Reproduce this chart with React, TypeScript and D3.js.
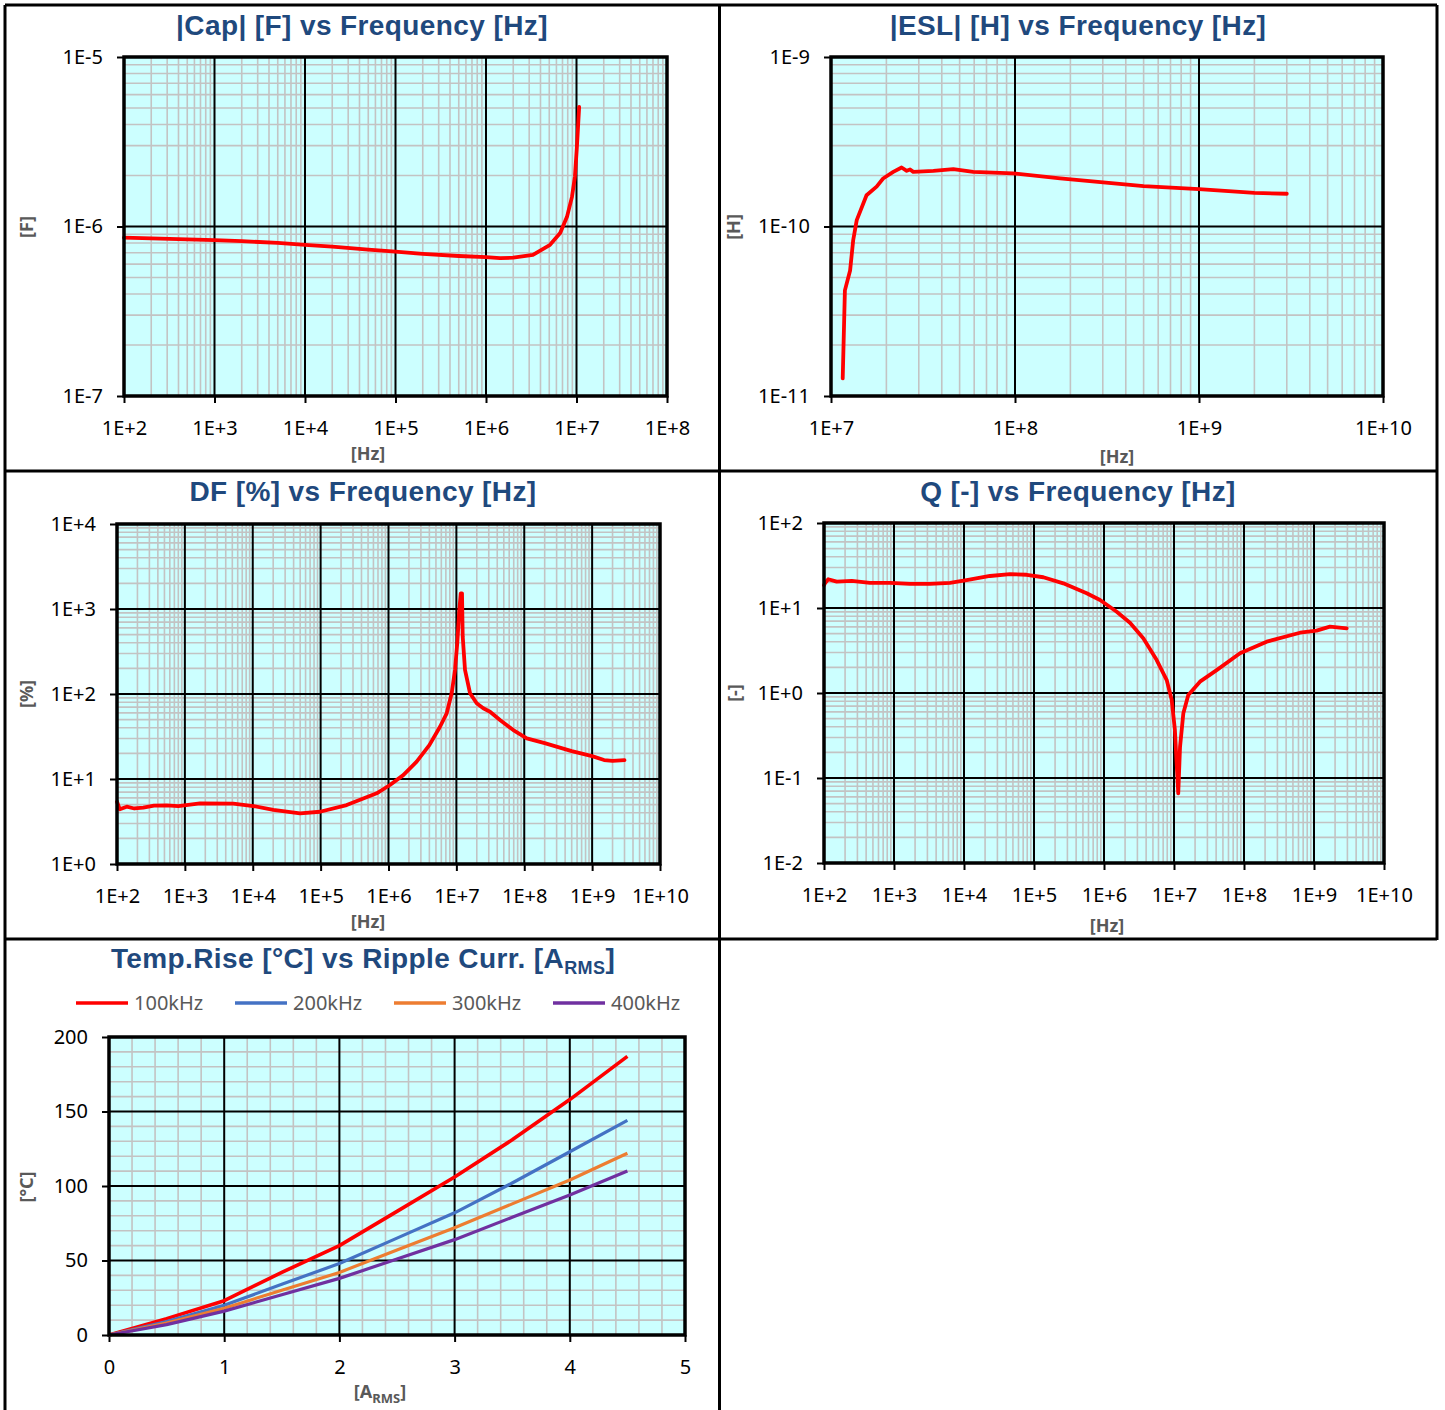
import { useEffect, useRef } from "react";
import * as d3 from "d3";

const WIDTH = 1445;
const HEIGHT = 1410;
const TITLE_COLOR = "#1f497d";
const LABEL_COLOR = "#595959";
const PLOT_BG = "#ccffff";
const MINOR_GRID = "#c3c3c3";
const CURVE_RED = "#ff0000";
const TICK_FONT = "'Noto Sans', 'DejaVu Sans', sans-serif";
const TITLE_FONT = "'Liberation Sans', Arial, sans-serif";

// |Cap| [F] vs Frequency [Hz]
const capFreq = [1e2, 2e2, 5e2, 1e3, 2e3, 5e3, 1e4, 2e4, 5e4, 1e5, 2e5, 5e5, 1e6, 1.43e6, 2e6, 3.3e6, 5.1e6, 6.6e6, 7.85e6, 8.9e6, 9.6e6, 1.01e7, 1.07e7];
const capValue = [0.86e-6, 0.85e-6, 0.84e-6, 0.83e-6, 0.82e-6, 0.8e-6, 0.78e-6, 0.76e-6, 0.73e-6, 0.71e-6, 0.69e-6, 0.67e-6, 0.66e-6, 0.65e-6, 0.655e-6, 0.68e-6, 0.78e-6, 0.915e-6, 1.14e-6, 1.49e-6, 1.96e-6, 2.94e-6, 5.07e-6];

// |ESL| [H] vs Frequency [Hz]
const eslFreq = [1.158e7, 1.19e7, 1.27e7, 1.32e7, 1.38e7, 1.56e7, 1.77e7, 1.92e7, 2.18e7, 2.42e7, 2.58e7, 2.69e7, 2.8e7, 3.6e7, 4.62e7, 5.93e7, 9.75e7, 1.76e8, 5e8, 1e9, 2e9, 3e9];
const eslValue = [1.27e-11, 4.2e-11, 5.5e-11, 8.3e-11, 1.09e-10, 1.53e-10, 1.72e-10, 1.92e-10, 2.1e-10, 2.23e-10, 2.13e-10, 2.17e-10, 2.1e-10, 2.13e-10, 2.18e-10, 2.1e-10, 2.06e-10, 1.92e-10, 1.73e-10, 1.66e-10, 1.58e-10, 1.56e-10];

// DF [%] vs Frequency [Hz]
const dfFreq = [1e2, 1.1e2, 1.39e2, 1.8e2, 2.44e2, 3.5e2, 5.4e2, 8e2, 1.67e3, 5.17e3, 1.02e4, 2.01e4, 4.97e4, 9.8e4, 2.42e5, 6.7e5, 1.05e6, 1.65e6, 2.6e6, 4e6, 5.74e6, 7.2e6, 8.53e6, 9.55e6, 1.03e7, 1.105e7, 1.16e7, 1.21e7, 1.24e7, 1.34e7, 1.59e7, 1.99e7, 2.49e7, 3.13e7, 4.39e7, 6.9e7, 1.09e8, 2e8, 5e8, 1e9, 1.5e9, 2e9, 3e9];
const dfValue = [5.4, 4.4, 4.72, 4.5, 4.6, 4.85, 4.9, 4.8, 5.18, 5.12, 4.81, 4.32, 3.95, 4.12, 4.94, 6.79, 8.5, 11.1, 16, 25, 41.2, 59.3, 102, 192, 394, 972, 1530, 1530, 472, 192, 102, 77.8, 67.9, 61.9, 49.4, 37.7, 30.1, 26.4, 21.3, 18.6, 16.7, 16.3, 16.7];

// Q [-] vs Frequency [Hz]
const qFreq = [1e2, 1.03e2, 1.15e2, 1.52e2, 2.49e2, 4.54e2, 8.77e2, 1.69e3, 3.27e3, 6.31e3, 1.09e4, 2.35e4, 4.54e4, 7.87e4, 1.36e5, 2.62e5, 5.66e5, 8.77e5, 1.52e6, 2.35e6, 3.64e6, 5.66e6, 7.87e6, 9.27e6, 1.03e7, 1.15e7, 1.22e7, 1.36e7, 1.6e7, 2.35e7, 4.07e7, 8.77e7, 2.11e8, 6.31e8, 1.09e9, 1.69e9, 2.93e9];
const qValue = [18.5, 19.5, 21.8, 20.4, 20.9, 19.8, 19.8, 19.2, 19.2, 19.8, 21.3, 23.8, 25.1, 24.6, 23, 19.5, 14.9, 12.4, 9.04, 6.71, 4.4, 2.44, 1.42, 0.83, 0.367, 0.066, 0.233, 0.577, 0.947, 1.36, 1.86, 2.93, 4.02, 5.12, 5.41, 6.03, 5.77];

// Temp.Rise [°C] vs Ripple Curr. [A_RMS]
const rippleCurrent = [0, 0.5, 1, 1.5, 2, 2.5, 3, 3.5, 4, 4.5];
const rise100k = [0, 11, 23, 42, 60, 83, 106, 131, 158, 187];
const rise200k = [0, 9, 20, 34, 48, 65, 82, 102, 123, 144];
const rise300k = [0, 8, 18, 30, 42, 57, 72, 88, 104, 122];
const rise400k = [0, 7, 16, 27, 38, 51, 64, 79, 94, 110];
const tempSeriesNames = ["100kHz", "200kHz", "300kHz", "400kHz"];
const tempSeriesColors = ["#ff0000", "#4472c4", "#ed7d31", "#7030a0"];

type Box = { left: number; top: number; width: number; height: number };

type LogPanel = Box & {
  xDomain: [number, number];
  yDomain: [number, number];
  title: string;
  titleX: number;
  titleY: number;
  xLabelX: number;
  xLabelY: number;
  yLabel: string;
  yLabelX: number;
  yLabelY: number;
  xs: number[];
  ys: number[];
};

const LOG_PANELS: LogPanel[] = [
  {
    left: 124, top: 57, width: 543, height: 339,
    xDomain: [1e2, 1e8], yDomain: [1e-7, 1e-5],
    title: "|Cap| [F] vs Frequency [Hz]", titleX: 362, titleY: 35,
    xLabelX: 368, xLabelY: 460, yLabel: "[F]", yLabelX: 27, yLabelY: 227,
    xs: capFreq, ys: capValue,
  },
  {
    left: 831, top: 57, width: 552, height: 339,
    xDomain: [1e7, 1e10], yDomain: [1e-11, 1e-9],
    title: "|ESL| [H] vs Frequency [Hz]", titleX: 1078, titleY: 35,
    xLabelX: 1117, xLabelY: 463, yLabel: "[H]", yLabelX: 734, yLabelY: 227,
    xs: eslFreq, ys: eslValue,
  },
  {
    left: 117, top: 524, width: 543, height: 340,
    xDomain: [1e2, 1e10], yDomain: [1e0, 1e4],
    title: "DF [%] vs Frequency [Hz]", titleX: 363, titleY: 501,
    xLabelX: 368, xLabelY: 928, yLabel: "[%]", yLabelX: 27, yLabelY: 694,
    xs: dfFreq, ys: dfValue,
  },
  {
    left: 824, top: 523, width: 560, height: 340,
    xDomain: [1e2, 1e10], yDomain: [1e-2, 1e2],
    title: "Q [-] vs Frequency [Hz]", titleX: 1078, titleY: 501,
    xLabelX: 1107, xLabelY: 932, yLabel: "[-]", yLabelX: 735, yLabelY: 693,
    xs: qFreq, ys: qValue,
  },
];

const TEMP_BOX: Box = { left: 109, top: 1037, width: 576, height: 298 };

function sciFormat(v: number) {
  const e = Math.round(Math.log10(v));
  return `1E${e < 0 ? "-" : "+"}${Math.abs(e)}`;
}

function logMajors(domain: [number, number]) {
  const lo = Math.round(Math.log10(domain[0]));
  const hi = Math.round(Math.log10(domain[1]));
  return d3.range(lo, hi + 1).map((e) => Math.pow(10, e));
}

function logMinors(domain: [number, number]) {
  const lo = Math.round(Math.log10(domain[0]));
  const hi = Math.round(Math.log10(domain[1]));
  const out: number[] = [];
  for (let e = lo; e < hi; e++) {
    for (let m = 2; m <= 9; m++) out.push(m * Math.pow(10, e));
  }
  return out;
}

// background, grid and axes of one plot area; returns the inner group
function drawFrame(
  svg: any,
  box: Box,
  x: any,
  y: any,
  xMajor: number[],
  xMinor: number[],
  yMajor: number[],
  yMinor: number[],
  fmt: (v: number) => string,
) {
  const g = svg.append("g").attr("transform", `translate(${box.left},${box.top})`);

  g.append("rect").attr("width", box.width).attr("height", box.height).attr("fill", PLOT_BG);

  const grid = g.append("g");
  grid.selectAll("line.minor-x").data(xMinor).join("line")
    .attr("class", "minor-x")
    .attr("x1", (d: number) => x(d)).attr("x2", (d: number) => x(d))
    .attr("y1", 0).attr("y2", box.height)
    .attr("stroke", MINOR_GRID).attr("stroke-width", 1.6);
  grid.selectAll("line.minor-y").data(yMinor).join("line")
    .attr("class", "minor-y")
    .attr("x1", 0).attr("x2", box.width)
    .attr("y1", (d: number) => y(d)).attr("y2", (d: number) => y(d))
    .attr("stroke", MINOR_GRID).attr("stroke-width", 1.6);
  grid.selectAll("line.major-x").data(xMajor).join("line")
    .attr("class", "major-x")
    .attr("x1", (d: number) => x(d)).attr("x2", (d: number) => x(d))
    .attr("y1", 0).attr("y2", box.height)
    .attr("stroke", "#000").attr("stroke-width", 2);
  grid.selectAll("line.major-y").data(yMajor).join("line")
    .attr("class", "major-y")
    .attr("x1", 0).attr("x2", box.width)
    .attr("y1", (d: number) => y(d)).attr("y2", (d: number) => y(d))
    .attr("stroke", "#000").attr("stroke-width", 2);

  const styleAxis = (axisG: any) => {
    axisG.select(".domain").remove();
    axisG.selectAll("line").attr("stroke", "#000").attr("stroke-width", 2);
    axisG.selectAll("text")
      .attr("fill", "#000")
      .style("font-family", TICK_FONT)
      .style("font-size", "20px");
  };

  g.append("g")
    .attr("transform", `translate(0,${box.height})`)
    .call(d3.axisBottom(x).tickValues(xMajor).tickFormat(fmt as any).tickSize(7).tickPadding(18))
    .call(styleAxis);

  g.append("g")
    .call(d3.axisLeft(y).tickValues(yMajor).tickFormat(fmt as any).tickSize(7).tickPadding(14))
    .call(styleAxis);

  return g;
}

function drawBorder(g: any, box: Box) {
  g.append("rect")
    .attr("width", box.width).attr("height", box.height)
    .attr("fill", "none").attr("stroke", "#000").attr("stroke-width", 3.5);
}

function drawTitle(svg: any, text: string, x: number, y: number) {
  return svg.append("text")
    .attr("x", x).attr("y", y)
    .attr("text-anchor", "middle")
    .attr("fill", TITLE_COLOR)
    .style("font-family", TITLE_FONT)
    .style("font-weight", "bold")
    .style("font-size", "28px")
    .style("letter-spacing", "0.4px")
    .text(text);
}

function axisLabel(svg: any, x: number, y: number, rotate: boolean) {
  return svg.append("text")
    .attr("transform", `translate(${x},${y})${rotate ? " rotate(-90)" : ""}`)
    .attr("text-anchor", "middle")
    .attr("dy", rotate ? "0.35em" : 0)
    .attr("fill", LABEL_COLOR)
    .style("font-family", TICK_FONT)
    .style("font-weight", "bold")
    .style("font-size", "18px");
}

export default function App() {
  const svgRef = useRef<SVGSVGElement | null>(null);

  useEffect(() => {
    if (!svgRef.current) return;
    const svg = d3.select(svgRef.current);
    svg.selectAll("*").remove();

    svg.append("rect").attr("width", WIDTH).attr("height", HEIGHT).attr("fill", "#fff");

    // Log-log frequency panels
    LOG_PANELS.forEach((p) => {
      const x = d3.scaleLog().domain(p.xDomain).range([0, p.width]);
      const y = d3.scaleLog().domain(p.yDomain).range([p.height, 0]);
      const g = drawFrame(
        svg, p, x, y,
        logMajors(p.xDomain), logMinors(p.xDomain),
        logMajors(p.yDomain), logMinors(p.yDomain),
        sciFormat,
      );

      const line = d3.line<[number, number]>()
        .x((d) => x(d[0]))
        .y((d) => y(d[1]));
      g.append("path")
        .datum(d3.zip(p.xs, p.ys) as [number, number][])
        .attr("d", line)
        .attr("fill", "none")
        .attr("stroke", CURVE_RED)
        .attr("stroke-width", 3.8)
        .attr("stroke-linejoin", "round")
        .attr("stroke-linecap", "round");

      drawBorder(g, p);
      drawTitle(svg, p.title, p.titleX, p.titleY);
      axisLabel(svg, p.xLabelX, p.xLabelY, false).text("[Hz]");
      axisLabel(svg, p.yLabelX, p.yLabelY, true).text(p.yLabel);
    });

    // Temperature rise vs ripple current
    const tx = d3.scaleLinear().domain([0, 5]).range([0, TEMP_BOX.width]);
    const ty = d3.scaleLinear().domain([0, 200]).range([TEMP_BOX.height, 0]);
    const xMajor = d3.range(0, 6);
    const xMinor = d3.range(0, 5.01, 0.2).filter((v) => Math.abs(v - Math.round(v)) > 1e-6);
    const yMajor = d3.range(0, 201, 50);
    const yMinor = d3.range(0, 201, 10).filter((v) => v % 50 !== 0);
    const tg = drawFrame(svg, TEMP_BOX, tx, ty, xMajor, xMinor, yMajor, yMinor, (v) => `${v}`);

    const tline = d3.line<[number, number]>().x((d) => tx(d[0])).y((d) => ty(d[1]));
    [rise100k, rise200k, rise300k, rise400k].forEach((s, i) => {
      tg.append("path")
        .datum(d3.zip(rippleCurrent, s) as [number, number][])
        .attr("d", tline)
        .attr("fill", "none")
        .attr("stroke", tempSeriesColors[i])
        .attr("stroke-width", i === 0 ? 3.6 : 3.2)
        .attr("stroke-linejoin", "round");
    });
    drawBorder(tg, TEMP_BOX);

    const title5 = drawTitle(svg, "", 363, 968);
    title5.append("tspan").text("Temp.Rise [°C] vs Ripple Curr. [A");
    title5.append("tspan").attr("dy", 6).style("font-size", "18px").text("RMS");
    title5.append("tspan").attr("dy", -6).text("]");

    const xl = axisLabel(svg, 380, 1398, false);
    xl.append("tspan").text("[A");
    xl.append("tspan").attr("dy", 5).style("font-size", "13px").text("RMS");
    xl.append("tspan").attr("dy", -5).text("]");
    axisLabel(svg, 27, 1187, true).text("[°C]");

    // Legend
    const legend = svg.append("g").attr("transform", "translate(76,1003)");
    tempSeriesNames.forEach((name, i) => {
      const lx = i * 159;
      legend.append("line")
        .attr("x1", lx).attr("x2", lx + 52)
        .attr("y1", 0).attr("y2", 0)
        .attr("stroke", tempSeriesColors[i])
        .attr("stroke-width", 3.5);
      legend.append("text")
        .attr("x", lx + 58).attr("y", 7)
        .attr("fill", LABEL_COLOR)
        .style("font-family", TICK_FONT)
        .style("font-size", "20px")
        .text(name);
    });

    // Panel frame lines
    const frame = svg.append("g").attr("stroke", "#000").attr("stroke-width", 3);
    frame.append("line").attr("x1", 5).attr("x2", 1437).attr("y1", 5).attr("y2", 5);
    frame.append("line").attr("x1", 5).attr("x2", 5).attr("y1", 5).attr("y2", HEIGHT);
    frame.append("line").attr("x1", 1437).attr("x2", 1437).attr("y1", 5).attr("y2", 940);
    frame.append("line").attr("x1", 719.5).attr("x2", 719.5).attr("y1", 5).attr("y2", HEIGHT);
    frame.append("line").attr("x1", 5).attr("x2", 1437).attr("y1", 471).attr("y2", 471);
    frame.append("line").attr("x1", 5).attr("x2", 1437).attr("y1", 939).attr("y2", 939);
  }, []);

  return (
    <svg
      ref={svgRef}
      width={WIDTH}
      height={HEIGHT}
      style={{ position: "absolute", left: 0, top: 0 }}
    />
  );
}
